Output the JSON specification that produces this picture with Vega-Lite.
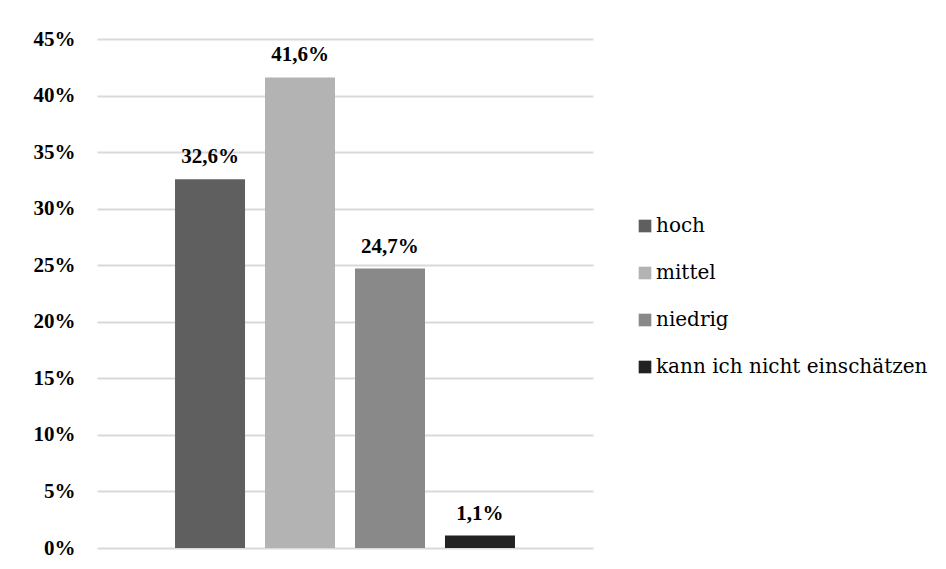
{
  "$schema": "https://vega.github.io/schema/vega-lite/v6.json",
  "autosize": "none",
  "width": 496,
  "height": 509,
  "padding": {"left": 97, "top": 39, "right": 353, "bottom": 21},
  "background": "white",
  "config": {
    "locale": {"number": {"decimal": ",", "thousands": ".", "grouping": [3], "currency": ["", " €"]}},
    "view": {"stroke": null},
    "font": "Liberation Serif"
  },
  "data": {
    "values": [
      {"kategorie": "hoch", "anteil": 0.326},
      {"kategorie": "mittel", "anteil": 0.416},
      {"kategorie": "niedrig", "anteil": 0.247},
      {"kategorie": "kann ich nicht einschätzen", "anteil": 0.011}
    ]
  },
  "encoding": {
    "x": {
      "field": "kategorie",
      "type": "nominal",
      "sort": ["hoch", "mittel", "niedrig", "kann ich nicht einschätzen"],
      "scale": {"paddingInner": 0.222, "paddingOuter": 0.867},
      "axis": null
    },
    "y": {
      "field": "anteil",
      "type": "quantitative",
      "scale": {"domain": [0, 0.45], "nice": false},
      "axis": {
        "values": [0, 0.05, 0.1, 0.15, 0.2, 0.25, 0.3, 0.35, 0.4, 0.45],
        "format": ".0%",
        "domain": false,
        "ticks": false,
        "title": null,
        "labelFont": "Liberation Serif",
        "labelFontSize": 21,
        "labelFontWeight": "bold",
        "labelColor": "#000000",
        "labelPadding": 22,
        "gridColor": "#d9d9d9",
        "gridWidth": 2
      }
    }
  },
  "layer": [
    {
      "mark": {"type": "bar"},
      "encoding": {
        "color": {
          "field": "kategorie",
          "type": "nominal",
          "sort": ["hoch", "mittel", "niedrig", "kann ich nicht einschätzen"],
          "scale": {
            "domain": ["hoch", "mittel", "niedrig", "kann ich nicht einschätzen"],
            "range": ["#5f5f5f", "#b3b3b3", "#898989", "#222222"]
          },
          "legend": {
            "title": null,
            "orient": "none",
            "legendX": 538,
            "legendY": 177,
            "symbolType": "square",
            "symbolSize": 160,
            "symbolStrokeWidth": 0,
            "labelFont": "DejaVu Serif",
            "labelFontSize": 20,
            "labelFontWeight": "normal",
            "labelColor": "#000000",
            "labelOffset": 1,
            "labelLimit": 400,
            "rowPadding": 27
          }
        }
      }
    },
    {
      "mark": {"type": "text", "baseline": "alphabetic", "dy": -16, "font": "Liberation Serif", "fontSize": 21, "fontWeight": "bold", "color": "#000000"},
      "encoding": {
        "text": {"field": "anteil", "type": "quantitative", "format": ".1%"}
      }
    }
  ]
}
